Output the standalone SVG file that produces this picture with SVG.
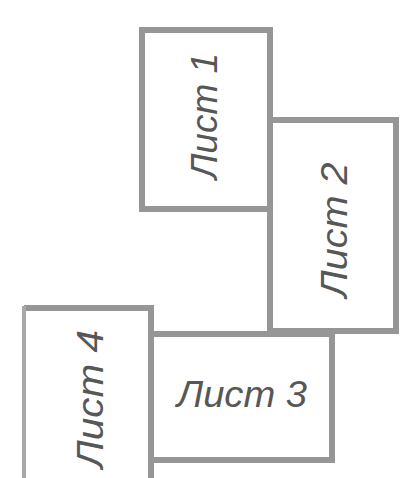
<svg xmlns="http://www.w3.org/2000/svg" width="406" height="478" viewBox="0 0 406 478">
<style>
.box{fill:#ffffff;stroke:#969696;stroke-width:6}
.edge{fill:none;stroke:#969696;stroke-width:6}
.thin{fill:none;stroke:#a8a8a8;stroke-width:4}
.lbl{font-family:"Liberation Sans",Arial,sans-serif;font-style:italic;font-size:37px;fill:#575757;text-anchor:middle}
</style>
<rect width="406" height="478" fill="#ffffff"/>
<g id="sheet1">
<rect class="box" x="142" y="30" width="128" height="179"/>
<text class="lbl" transform="translate(217,116) rotate(-90)" textLength="126" lengthAdjust="spacingAndGlyphs">Лист 1</text>
</g>
<g id="sheet2">
<rect class="box" x="270" y="120" width="126" height="211"/>
<text class="lbl" transform="translate(347,230) rotate(-90)" textLength="135" lengthAdjust="spacingAndGlyphs">Лист 2</text>
</g>
<g id="sheet4">
<rect x="24" y="308" width="127" height="180" fill="#ffffff"/>
<path class="edge" d="M24 308 H151 V481"/>
<path class="thin" d="M24 306 V481"/>
<text class="lbl" transform="translate(103,399) rotate(-90)" textLength="138" lengthAdjust="spacingAndGlyphs">Лист 4</text>
</g>
<g id="sheet3">
<rect class="box" x="151" y="334" width="181" height="126"/>
<text class="lbl" x="242" y="407" textLength="130" lengthAdjust="spacingAndGlyphs">Лист 3</text>
</g>
<g id="connectors"/>
</svg>
